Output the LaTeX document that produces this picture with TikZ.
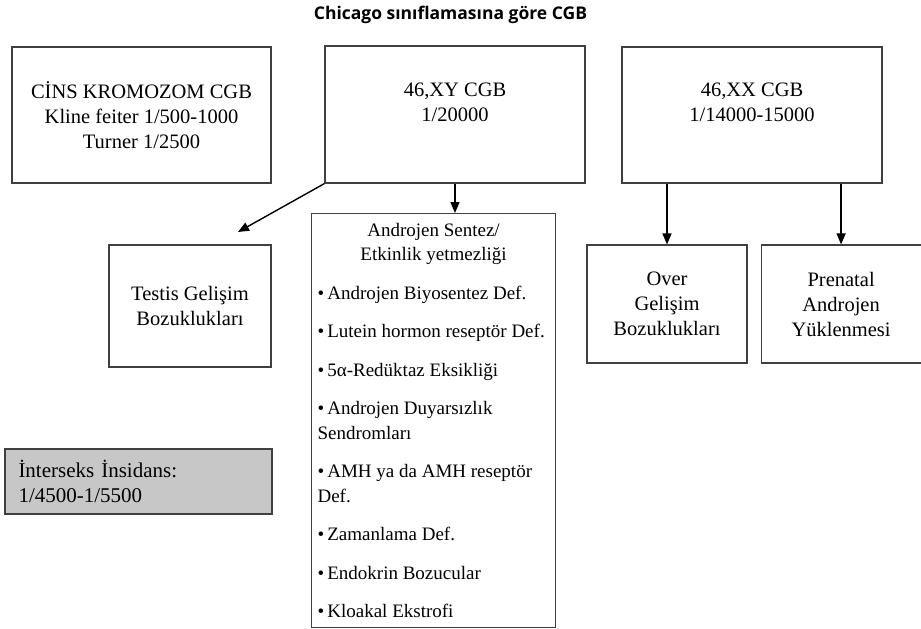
\documentclass[tikz,border=0pt]{standalone}
\usepackage{fontspec}
\setmainfont{Liberation Serif}
\newfontfamily\baslikfont{Open Sans}
\usetikzlibrary{arrows.meta,positioning}
\setlength{\parindent}{0pt}
\newcommand{\madde}{\textbullet\,}
\newcommand{\aralik}{\par\vspace{14pt}}

\begin{document}
\begin{tikzpicture}[x=1pt,y=-1pt,
		kutu/.style={draw=black!75, line width=1.1pt, inner sep=6pt, align=center,
				font=\fontsize{20.5}{25}\selectfont},
		ok/.style={-{Triangle[length=11pt,width=9pt]}, line width=1.4pt}]
	\useasboundingbox (0,0) rectangle (921,629);
	%--- Title ---
	\node[font=\baslikfont\bfseries\fontsize{17.5}{20}\selectfont] (baslik) at (450.5,15) {Chicago sınıflamasına göre CGB};

	%--- Top row ---
	\node[kutu, minimum width=259pt, minimum height=136pt] (cins) at (141.5,115)
	{CİNS KROMOZOM CGB\\Kline feiter 1/500-1000\\Turner 1/2500};
	\node[kutu, minimum width=260pt, minimum height=137pt] (xy) at (455,114.5)
	{46,XY CGB\\1/20000\\\mbox{}};
	\node[kutu, minimum width=260pt, minimum height=136pt] (xx) at (752,115)
	{46,XX CGB\\1/14000-15000\\\mbox{}};

	%--- Bottom row ---
	\node[kutu, minimum width=162pt, minimum height=122pt] (testis) at (190,306)
	{Testis Gelişim\\Bozuklukları};
	\node[kutu, minimum width=160pt, minimum height=118pt] (over) at (667,304)
	{Over\\Gelişim\\Bozuklukları};
	\node[kutu, minimum width=160pt, minimum height=118pt, right=13pt of over] (prenatal)
	{Prenatal\\Androjen\\Yüklenmesi};
	\node[kutu, fill=black!22, minimum width=267pt, minimum height=65pt, text width=240pt,
		align=left, font=\fontsize{21}{25}\selectfont] (insidans) at (138.5,481.5)
	{İnterseks İnsidans:\\1/4500-1/5500};
	% List box under 46,XY
	\node[kutu, anchor=north west, minimum width=241pt, minimum height=414pt, text width=232pt,
		align=none, font=\fontsize{19}{24.5}\selectfont] (androjen) at (311,213)
	{{\centering Androjen Sentez/\\Etkinlik yetmezliği\par}\vspace{14pt}
		\raggedright
		\madde Androjen Biyosentez Def.\aralik
		\madde Lutein hormon reseptör Def.\aralik
		\madde 5α-Redüktaz Eksikliği\aralik
		\madde Androjen Duyarsızlık\\Sendromları\aralik
		\madde AMH ya da AMH reseptör\\Def.\aralik
		\madde Zamanlama Def.\aralik
		\madde Endokrin Bozucular\aralik
		\madde Kloakal Ekstrofi\par};

	%--- Arrows ---
	\coordinate (ucu) at (238,232);
	\draw[ok] (xy.south west) -- (ucu);
	\draw[ok] (xy.south) -- (xy.south |- androjen.north);
	\draw[ok] (over.north |- xx.south) -- (over.north);
	\draw[ok] (prenatal.north |- xx.south) -- (prenatal.north);
\end{tikzpicture}
\end{document}
